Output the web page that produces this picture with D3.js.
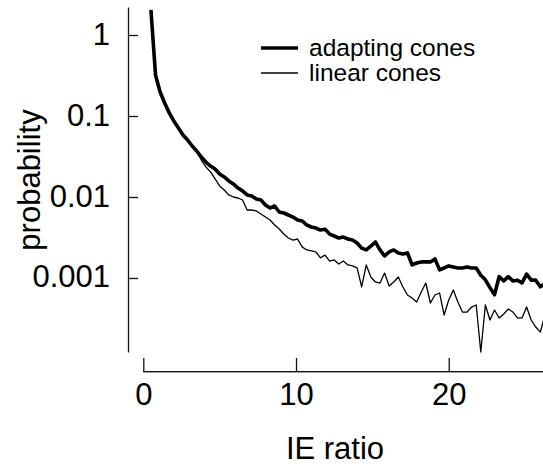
<!DOCTYPE html>
<html>
<head>
<meta charset="utf-8">
<script src="https://cdn.jsdelivr.net/npm/d3@7"></script>
<style>
    body { margin: 0; background: #fff; }
    svg { display: block; font-family: 'Liberation Sans', Arial, Helvetica, sans-serif; }
</style>
</head>
<body>
<div id="chart"></div>
<script>
// IE ratio bins: start and step of the histogram
const BIN_START = 0.5;
const BIN_STEP = 0.3;

const adaptingCones = [
    2.04, 0.321, 0.198, 0.145, 0.109, 0.0867, 0.0711, 0.0582, 0.0506, 0.0426,
    0.037, 0.0312, 0.027, 0.0241, 0.0222, 0.0192, 0.0177, 0.0158, 0.0145, 0.0129,
    0.0119, 0.0106, 0.0103, 0.00945, 0.00918, 0.00797, 0.00732, 0.00774, 0.00653, 0.00634,
    0.006, 0.00566, 0.0052, 0.00506, 0.00451, 0.00426, 0.00414, 0.00391, 0.004, 0.00349,
    0.0033, 0.00312, 0.0032, 0.00303, 0.00294, 0.0027, 0.00234, 0.00222, 0.00248, 0.00278,
    0.00222, 0.00187, 0.0021, 0.00222, 0.00204, 0.00198, 0.00204, 0.00145, 0.00153, 0.00158,
    0.00158, 0.00158, 0.00172, 0.00126, 0.00133, 0.00141, 0.00137, 0.00133, 0.00133, 0.00137,
    0.00133, 0.00133, 0.00108, 0.00095, 0.00076, 0.00062, 0.00104, 0.00092, 0.00104, 0.00092,
    0.00094, 0.00087, 0.00112, 0.00094, 0.00094, 0.00078, 0.00085
];

const linearCones = [
    2.04, 0.321, 0.198, 0.145, 0.109, 0.0867, 0.0711, 0.0582, 0.0506, 0.0426,
    0.036, 0.0286, 0.0235, 0.0204, 0.0167, 0.0137, 0.0122, 0.0106, 0.01, 0.00972,
    0.00918, 0.00691, 0.00691, 0.00672, 0.00617, 0.00566, 0.0052, 0.00451, 0.00403, 0.00349,
    0.00312, 0.00294, 0.00303, 0.00242, 0.00222, 0.00216, 0.0021, 0.00177, 0.00192, 0.00162,
    0.00167, 0.00149, 0.00162, 0.00145, 0.00141, 0.00133, 0.000775, 0.00145, 0.00103, 0.000893,
    0.000867, 0.00115, 0.000796, 0.000893, 0.00103, 0.000775, 0.000617, 0.000566, 0.000506, 0.000671,
    0.000867, 0.000491, 0.000617, 0.000653, 0.000349, 0.000535, 0.000711, 0.000506, 0.00038, 0.00038,
    0.000438, 0.000464, 0.000122, 0.000464, 0.000303, 0.000403, 0.000321, 0.00036, 0.000414, 0.00038,
    0.000321, 0.000321, 0.000438, 0.000303, 0.000248, 0.000215, 0.000349
];

const yTicks = [1, 0.1, 0.01, 0.001];
const yTickLabels = ['1', '0.1', '0.01', '0.001'];
const xTicks = [0, 10, 20];

const series = [
    { name: 'adapting cones', values: adaptingCones, width: 3.6 },
    { name: 'linear cones', values: linearCones, width: 1.3 }
];

const width = 543;
const height = 466;

const svg = d3.select('#chart').append('svg')
    .attr('width', width)
    .attr('height', height);

// scales
const x = d3.scaleLinear().domain([0, 26.2]).range([143.3, 543.4]);
const y = d3.scaleLog().domain([1.22e-4, 2.217]).range([352, 7]);

// y-axis, ticks point into the plot
svg.append('g')
    .attr('transform', 'translate(128, 0)')
    .call(d3.axisLeft(y)
        .tickValues(yTicks)
        .tickFormat((d, i) => yTickLabels[i])
        .tickSizeInner(-10)
        .tickSizeOuter(0)
        .tickPadding(18))
    .call((g) => g.selectAll('path, line').attr('stroke', '#111').attr('stroke-width', 1.3))
    .call((g) => g.selectAll('text')
        .attr('fill', '#000')
        .attr('dy', '0.29em')
        .style('font-size', '31px')
        .style('font-family', null));

// x-axis: baseline drawn as a plain rect so it cannot vanish
const xAxisG = svg.append('g')
    .attr('transform', 'translate(0, 371)')
    .call(d3.axisBottom(x)
        .tickValues(xTicks)
        .tickFormat(d3.format('d'))
        .tickSizeInner(-13)
        .tickSizeOuter(0)
        .tickPadding(12))
    .call((g) => g.select('.domain').remove())
    .call((g) => g.selectAll('line').attr('stroke', '#111').attr('stroke-width', 1.3))
    .call((g) => g.selectAll('text')
        .attr('fill', '#000')
        .style('font-size', '31px')
        .style('font-family', null));

xAxisG.append('rect')
    .attr('x', x.range()[0] - 0.2)
    .attr('y', 0)
    .attr('width', x.range()[1] - x.range()[0])
    .attr('height', 1.4)
    .attr('fill', '#111');

// axis labels
svg.append('text')
    .attr('x', 335)
    .attr('y', 459)
    .attr('text-anchor', 'middle')
    .style('font-size', '31px')
    .text('IE ratio');

svg.append('text')
    .attr('transform', 'translate(40, 180) rotate(-90)')
    .attr('text-anchor', 'middle')
    .style('font-size', '31px')
    .text('probability');

// curves
const line = d3.line()
    .x((d, i) => x(BIN_START + i * BIN_STEP))
    .y((d) => y(d));

svg.selectAll('path.curve')
    .data(series)
    .enter()
    .append('path')
    .attr('class', 'curve')
    .attr('fill', 'none')
    .attr('stroke', '#000')
    .attr('stroke-width', (d) => d.width)
    .attr('stroke-linejoin', 'round')
    .attr('d', (d) => line(d.values));

// legend
const legend = svg.append('g');
series.forEach((s, i) => {
    legend.append('line')
        .attr('x1', 261)
        .attr('x2', 298)
        .attr('y1', 48 + i * 25)
        .attr('y2', 48 + i * 25)
        .attr('stroke', '#000')
        .attr('stroke-width', s.width);
    legend.append('text')
        .attr('x', 309)
        .attr('y', 56 + i * 25)
        .style('font-size', '24.5px')
        .text(s.name);
});
</script>
</body>
</html>
